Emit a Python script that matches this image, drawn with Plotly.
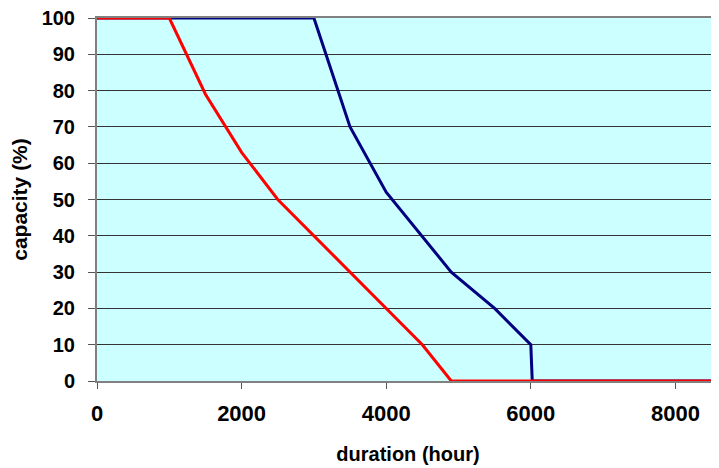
import plotly.graph_objects as go

# data
blue_hours = [0, 3000, 3500, 4000, 4900, 5500, 6000, 6020, 8500]
blue_capacity = [100, 100, 70, 52, 30, 20, 10, 0, 0]
red_hours = [0, 1000, 1500, 2000, 2500, 3000, 3500, 4000, 4500, 4900, 8500]
red_capacity = [100, 100, 79, 63, 50, 40, 30, 20, 10, 0, 0]
x_ticks = [0, 2000, 4000, 6000, 8000]
y_ticks = [0, 10, 20, 30, 40, 50, 60, 70, 80, 90, 100]

FONT = "Liberation Sans, Arial, sans-serif"

fig = go.Figure()
fig.add_trace(go.Scatter(x=blue_hours, y=blue_capacity, mode="lines",
                         line=dict(color="#000080", width=3), showlegend=False,
                         cliponaxis=False))
fig.add_trace(go.Scatter(x=red_hours, y=red_capacity, mode="lines",
                         line=dict(color="#FF0000", width=3), showlegend=False,
                         cliponaxis=False))

# the page body adds an 8px margin, so the figure is 8px smaller on each side
fig.update_layout(
    width=711, height=460,
    margin=dict(l=89, r=0, t=10, b=87, autoexpand=False),
    paper_bgcolor="white",
    plot_bgcolor="#CCFFFF",
    font=dict(family=FONT, size=17, color="black", weight="bold"),
    xaxis=dict(
        range=[0, 8603], tickvals=x_ticks, ticktext=[str(v) for v in x_ticks],
        ticks="outside", ticklen=6, tickwidth=1, tickcolor="#555555",
        showline=True, linecolor="#808080", linewidth=2, mirror=True,
        showgrid=False, zeroline=False, automargin=False,
        ticklabelstandoff=6, ticklabeloverflow="allow",
        tickfont=dict(family=FONT, size=22, weight="bold"),
        title=dict(text="duration (hour)", standoff=22,
                   font=dict(family=FONT, size=20, weight="bold")),
    ),
    yaxis=dict(
        range=[0, 100], tickvals=y_ticks, ticktext=[str(v) for v in y_ticks],
        ticks="outside", ticklen=7, tickwidth=1, tickcolor="#555555",
        showline=True, linecolor="#808080", linewidth=2,
        showgrid=True, gridcolor="#333333", gridwidth=1,
        zeroline=False, automargin=False,
        ticklabelstandoff=9, ticklabeloverflow="allow",
        tickfont=dict(family=FONT, size=20, weight="bold"),
        title=dict(text="capacity (%)", standoff=10,
                   font=dict(family=FONT, size=21, weight="bold")),
    ),
)

fig.write_html("out.html")
